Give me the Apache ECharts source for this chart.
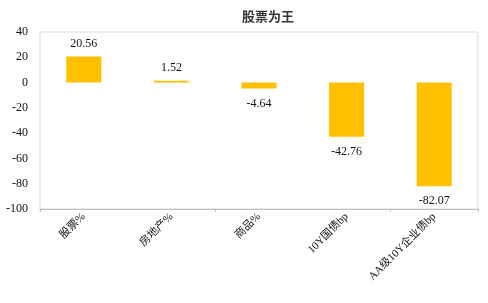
<!DOCTYPE html>
<html><head><meta charset="utf-8">
<script src="https://cdn.jsdelivr.net/npm/echarts@6/dist/echarts.min.js"></script>
<style>html,body{margin:0;padding:0;background:#fff}#c{width:488px;height:303px}</style>
</head><body><div id="c"></div>
<script>
var categories = ['股票%', '房地产%', '商品%', '10Y国债bp', 'AA级10Y企业债bp'];
var values = [20.56, 1.52, -4.64, -42.76, -82.07];
var yTicks = { min: -100, max: 40, interval: 20 };
var titleText = '股票为王';

var font = "'Liberation Serif', 'Noto Sans CJK SC', serif";
var chart = echarts.init(document.getElementById('c'), null, { renderer: 'canvas' });
chart.setOption({
  animation: false,
  backgroundColor: '#fff',
  title: {
    text: titleText, left: 263, top: 5, textAlign: 'center',
    textStyle: { fontFamily: "'Noto Sans CJK SC'", fontSize: 13, fontWeight: 'bold', color: '#333' }
  },
  grid: { left: 40, right: 10, top: 32, bottom: 94, show: true, borderColor: '#d9d9d9', borderWidth: 1 },
  xAxis: [{
    type: 'category', data: categories, position: 'bottom',
    axisLine: { show: false }, axisTick: { show: false },
    axisLabel: { rotate: 45, fontFamily: font, fontSize: 11, color: '#111', margin: 6, interval: 0 }
  }, {
    type: 'category', data: categories, position: 'bottom',
    axisLine: { show: true, onZero: true, lineStyle: { color: '#bfbfbf', width: 1 } },
    axisTick: { show: true, length: 3, lineStyle: { color: '#bfbfbf' } },
    axisLabel: { show: false }
  }],
  yAxis: {
    type: 'value', min: yTicks.min, max: yTicks.max, interval: yTicks.interval,
    axisLine: { show: false }, axisTick: { show: false }, splitLine: { show: false },
    axisLabel: { fontFamily: font, fontSize: 12, color: '#111', margin: 12 }
  },
  series: [{
    type: 'bar', xAxisIndex: 0, barWidth: '40%',
    itemStyle: { color: '#FFC000' },
    data: values.map(function (v) {
      return { value: v, label: { position: v >= 0 ? 'top' : 'bottom', distance: v >= 0 ? 7 : 9 } };
    }),
    label: { show: true, fontFamily: font, fontSize: 12, color: '#111',
      formatter: function (p) { return p.value.toFixed(2); } }
  }]
});
</script></body></html>
